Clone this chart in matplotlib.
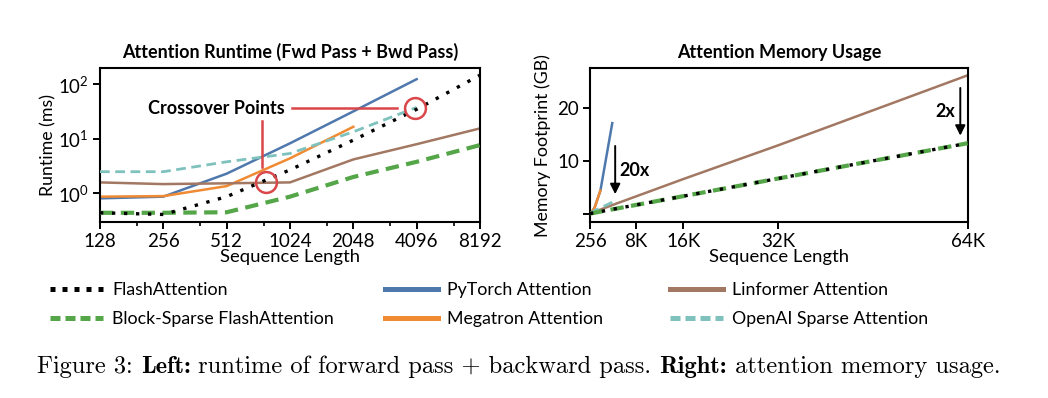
import numpy as np
import matplotlib
matplotlib.use("Agg")
import matplotlib.pyplot as plt
from matplotlib.lines import Line2D
from matplotlib.ticker import FixedLocator, FixedFormatter, NullLocator
from matplotlib.offsetbox import TextArea, HPacker, AnchoredOffsetbox

plt.rcParams["font.family"] = ["Lato", "DejaVu Sans"]

# ── Data: runtime (ms) ───────────────────────────────────────────────────────
seq_rt = [128, 256, 512, 1024, 2048, 4096, 8192]
flash_rt = [0.44, 0.41, 0.87, 2.7, 9.5, 35, 148]
block_rt = [0.44, 0.44, 0.45, 0.87, 2.0, 3.8, 7.7]
pytorch_rt = [0.81, 0.87, 2.3, 8.3, 32, 125]
megatron_rt = [0.87, 0.89, 1.36, 4.4, 16.7]
linformer_rt = [1.59, 1.48, 1.53, 1.59, 4.2, 8.0, 15.6]
openai_rt = [2.5, 2.5, 3.8, 5.4, 13.5, 38]

# ── Data: memory (GB) ────────────────────────────────────────────────────────
seq_mem = [256, 512, 1024, 2048, 4096, 8192, 16384, 32768, 65536]
flash_mem = [0.05, 0.1, 0.2, 0.42, 0.84, 1.68, 3.35, 6.7, 13.4]
block_mem = [0.05, 0.1, 0.2, 0.42, 0.84, 1.68, 3.35, 6.7, 13.4]
pytorch_mem = [0.1, 0.3, 1.1, 4.4, 17.2]
megatron_mem = [0.1, 0.3, 1.1, 4.4]
linformer_mem = [0.1, 0.2, 0.4, 0.8, 1.65, 3.3, 6.6, 13.0, 26.3]
openai_mem = [0.1, 0.3, 0.6, 1.1, 2.2]

rt_ticks = [128, 256, 512, 1024, 2048, 4096, 8192]
rt_minor = [192, 384, 768, 1536, 3072, 6144]
mem_ticks = [256, 8192, 16384, 32768, 65536]
mem_ticklabels = ["256", "8K", "16K", "32K", "64K"]

C_BLUE = "#4f78ad"
C_ORANGE = "#f08a33"
C_BROWN = "#a27863"
C_TEAL = "#7fc2bd"
C_GREEN = "#55a648"
C_RED = "#d9474b"

flash_kw = dict(color="black", lw=2.4, linestyle=(0, (1, 2.6)), dash_capstyle="butt", zorder=6)
block_kw = dict(color=C_GREEN, lw=3.0, linestyle=(0, (3.2, 1.8)), dash_capstyle="butt", zorder=4)
teal_kw = dict(color=C_TEAL, lw=2.0, linestyle=(0, (3.5, 2.0)), dash_capstyle="butt", zorder=3)

fig = plt.figure(figsize=(10.48, 3.98), dpi=100)
ax1 = fig.add_axes([0.0954, 0.442, 0.3626, 0.387])
ax2 = fig.add_axes([0.563, 0.442, 0.3607, 0.387])

# ── Left: runtime ────────────────────────────────────────────────────────────
ax1.plot(seq_rt[:len(openai_rt)], openai_rt, **teal_kw)
ax1.plot(seq_rt[:len(pytorch_rt)], pytorch_rt, color=C_BLUE, lw=1.8)
ax1.plot(seq_rt[:len(megatron_rt)], megatron_rt, color=C_ORANGE, lw=1.8)
ax1.plot(seq_rt, linformer_rt, color=C_BROWN, lw=1.8)
ax1.plot(seq_rt, block_rt, **block_kw)
ax1.plot(seq_rt, flash_rt, **flash_kw)

ax1.set_xscale("log", base=2)
ax1.set_yscale("log")
ax1.set_xlim(128, 8192)
ax1.set_ylim(0.297, 200)
ax1.xaxis.set_major_locator(FixedLocator(rt_ticks))
ax1.xaxis.set_major_formatter(FixedFormatter([str(t) for t in rt_ticks]))
ax1.xaxis.set_minor_locator(FixedLocator(rt_minor))
ax1.yaxis.set_minor_locator(NullLocator())
ax1.set_title("Attention Runtime (Fwd Pass + Bwd Pass)", fontsize=13, fontweight="bold", pad=7)
ax1.set_xlabel("Sequence Length", fontsize=13.3, labelpad=-1)
ax1.set_ylabel("Runtime (ms)", fontsize=12.8, labelpad=1)

# crossover annotations
cross_pts = [(786, 1.63), (4030, 36.5)]
for cx, cy in cross_pts:
    ax1.plot(cx, cy, marker="o", ms=15, mfc="none", mec=C_RED, mew=1.8, zorder=8)
ax1.text(460, 36.5, "Crossover Points", fontsize=13, fontweight="bold", ha="center", va="center")
ax1.plot([1050, 3310], [36.7, 36.7], color=C_RED, lw=1.8, zorder=7)
ax1.plot([755, 755], [21.5, 3.08], color=C_RED, lw=1.8, zorder=7)

# ── Right: memory ────────────────────────────────────────────────────────────
ax2.plot(seq_mem, linformer_mem, color=C_BROWN, lw=1.8)
ax2.plot(seq_mem[:len(pytorch_mem)], pytorch_mem, color=C_BLUE, lw=1.8)
ax2.plot(seq_mem[:len(megatron_mem)], megatron_mem, color=C_ORANGE, lw=1.8)
ax2.plot(seq_mem[:len(openai_mem)], openai_mem, **teal_kw)
ax2.plot(seq_mem, block_mem, **block_kw)
ax2.plot(seq_mem, flash_mem, **flash_kw)

ax2.set_xlim(256, 65536)
ax2.set_ylim(-1.57, 27.65)
ax2.set_xticks(mem_ticks)
ax2.set_xticklabels(mem_ticklabels)
ax2.set_yticks([0, 10, 20])
ax2.set_yticklabels(["", "10", "20"])
ax2.set_title("Attention Memory Usage", fontsize=13, fontweight="bold", pad=7)
ax2.set_xlabel("Sequence Length", fontsize=13.3, labelpad=-1)
ax2.set_ylabel("Memory Footprint (GB)", fontsize=12.8, labelpad=4)

arrow_kw = dict(arrowstyle="-|>,head_length=0.6,head_width=0.3", color="black", lw=1.4)
ax2.annotate("", xy=(4600, 3.2), xytext=(4600, 13.4), arrowprops=arrow_kw)
ax2.text(5300, 8.3, "20x", fontsize=13, fontweight="bold", ha="left", va="center")
ax2.annotate("", xy=(64200, 14.3), xytext=(64200, 24.4), arrowprops=arrow_kw)
ax2.text(61600, 19.4, "2x", fontsize=13, fontweight="bold", ha="center", va="center")

for ax in (ax1, ax2):
    for sp in ax.spines.values():
        sp.set_linewidth(1.5)
    ax.tick_params(which="major", length=5, width=1.4, labelsize=13.5, pad=3)
    ax.tick_params(which="minor", length=3, width=1.2)

# ── Legend: one column each, placed separately ──────────────────────────────
leg_cols = [
    ([Line2D([], [], color="black", lw=3.6, linestyle=(0, (1, 1.4)), dash_capstyle="butt"),
      Line2D([], [], color=C_GREEN, lw=3.6, linestyle=(0, (2, 1)), dash_capstyle="butt")],
     ["FlashAttention", "Block-Sparse FlashAttention"], 50),
    ([Line2D([], [], color=C_BLUE, lw=3.6),
      Line2D([], [], color=C_ORANGE, lw=3.6)],
     ["PyTorch Attention", "Megatron Attention"], 385),
    ([Line2D([], [], color=C_BROWN, lw=3.6),
      Line2D([], [], color=C_TEAL, lw=3.6, linestyle=(0, (2, 1)), dash_capstyle="butt")],
     ["Linformer Attention", "OpenAI Sparse Attention"], 670),
]
for h, l, xpix in leg_cols:
    fig.legend(h, l, loc="upper left", bbox_to_anchor=(xpix / 1048, 0.292),
               frameon=False, fontsize=12.8, handlelength=3.0, handletextpad=0.5,
               labelspacing=0.75, borderaxespad=0, borderpad=0)

# ── Caption (Computer Modern, mixed weight) ─────────────────────────────────
cap_pieces = [("Figure 3: ", "cmr10"), ("Left:", "cmb10"),
              (" runtime of forward pass + backward pass. ", "cmr10"),
              ("Right:", "cmb10"), (" attention memory usage.", "cmr10")]
boxes = [TextArea(t, textprops=dict(family=f, size=17.6)) for t, f in cap_pieces]
cap = HPacker(children=boxes, align="baseline", pad=0, sep=0)
fig.add_artist(AnchoredOffsetbox(loc="center", child=cap, frameon=False, pad=0,
                                 borderpad=0, bbox_to_anchor=(0.495, 0.078),
                                 bbox_transform=fig.transFigure))

fig.savefig("out.png", dpi=100)
